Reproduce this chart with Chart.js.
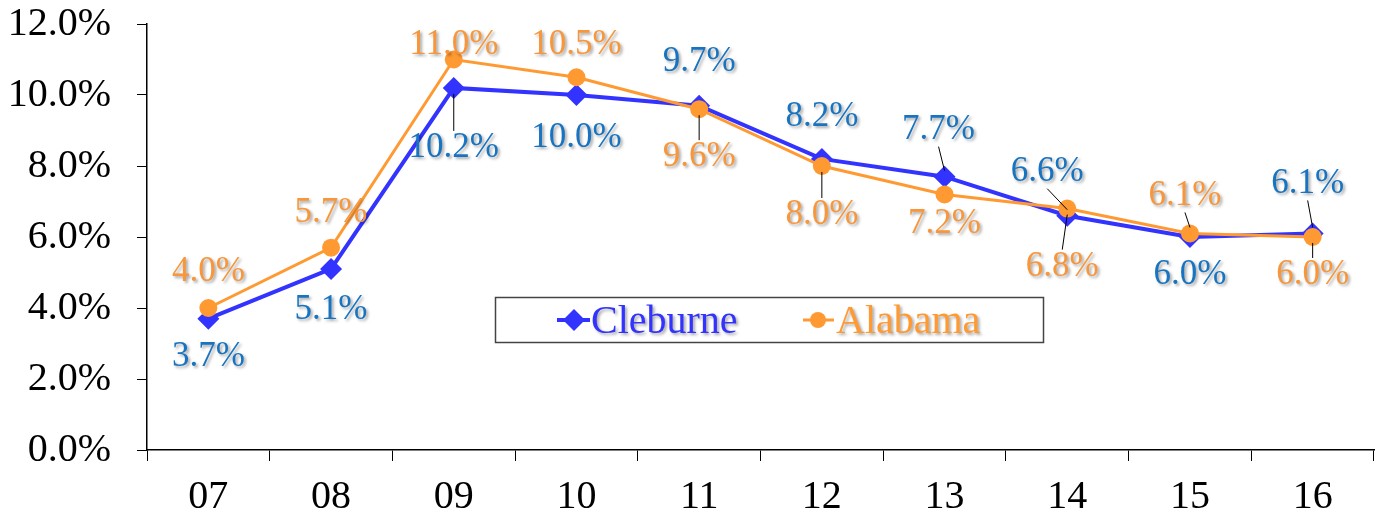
<!DOCTYPE html>
<html>
<head>
<meta charset="utf-8">
<script src="https://cdn.jsdelivr.net/npm/chart.js@4"></script>
<style>
  html, body { margin: 0; padding: 0; background: #fff; }
  #wrap { width: 1385px; height: 515px; }
</style>
</head>
<body>
<div id="wrap"><canvas id="rate-chart" width="1385" height="515"></canvas></div>
<script>
const years = ['07', '08', '09', '10', '11', '12', '13', '14', '15', '16'];
const cleburne = [3.7, 5.1, 10.2, 10.0, 9.7, 8.2, 7.7, 6.6, 6.0, 6.1];
const alabama = [4.0, 5.7, 11.0, 10.5, 9.6, 8.0, 7.2, 6.8, 6.1, 6.0];
const yTicks = [0, 2, 4, 6, 8, 10, 12];

// where each value label sits relative to its point, and whether it gets a leader line
const cleburneLabelPos = [[0, 38], [0, 41], [0, 60], [0, 43], [0, -44], [0, -42], [-6, -47], [-20, -44], [0, 38], [-5, -50]];
const alabamaLabelPos = [[0, -36], [0, -35], [0, -15], [0, -32], [0, 48], [0, 49], [0, 29], [-5, 58], [-5, -38], [0, 38]];
const cleburneLeader = [0, 0, 1, 0, 0, 0, 1, 1, 0, 1];
const alabamaLeader = [0, 0, 0, 0, 1, 1, 0, 1, 1, 1];

const SERIF = '"Liberation Serif", "Times New Roman", serif';
const BLUE_LINE = '#3333FF';
const ORANGE_LINE = '#FF9A33';
const BLUE_TEXT = '#1874C0';
const ORANGE_TEXT = '#F7963A';

const valueLabels = {
    id: 'valueLabels',
    afterDatasetsDraw(chart) {
        const ctx = chart.ctx;
        const cfg = [
            { data: cleburne, pos: cleburneLabelPos, leader: cleburneLeader, color: BLUE_TEXT },
            { data: alabama, pos: alabamaLabelPos, leader: alabamaLeader, color: ORANGE_TEXT }
        ];
        cfg.forEach((c, di) => {
            const meta = chart.getDatasetMeta(di);
            meta.data.forEach((pt, i) => {
                const [dx, dy] = c.pos[i];
                const lx = pt.x + dx;
                const ly = pt.y + dy;
                if (c.leader[i]) {
                    const s = dy > 0 ? 1 : -1;
                    ctx.save();
                    ctx.strokeStyle = '#000';
                    ctx.lineWidth = 1;
                    ctx.beginPath();
                    ctx.moveTo(pt.x, pt.y + s * 6);
                    ctx.lineTo(lx, ly - s * 17);
                    ctx.stroke();
                    ctx.restore();
                }
                ctx.save();
                ctx.font = '35px ' + SERIF;
                ctx.textAlign = 'center';
                ctx.textBaseline = 'middle';
                ctx.shadowColor = 'rgba(0,0,0,0.35)';
                ctx.shadowOffsetX = 2;
                ctx.shadowOffsetY = 2;
                ctx.shadowBlur = 3;
                ctx.fillStyle = c.color;
                ctx.fillText(c.data[i].toFixed(1) + '%', lx, ly);
                ctx.restore();
            });
        });
    }
};

const boxLegend = {
    id: 'boxLegend',
    afterDraw(chart) {
        const ctx = chart.ctx;
        ctx.save();
        ctx.fillStyle = '#fff';
        ctx.fillRect(495, 297, 548, 45);
        ctx.strokeStyle = '#444';
        ctx.lineWidth = 1.5;
        ctx.strokeRect(495.5, 297.5, 548, 45);

        const cy = 320;
        // Cleburne
        ctx.strokeStyle = BLUE_LINE;
        ctx.lineWidth = 4;
        ctx.beginPath();
        ctx.moveTo(557, cy); ctx.lineTo(590, cy); ctx.stroke();
        ctx.fillStyle = BLUE_LINE;
        ctx.beginPath();
        ctx.moveTo(574, cy - 11); ctx.lineTo(585, cy); ctx.lineTo(574, cy + 11); ctx.lineTo(563, cy);
        ctx.closePath(); ctx.fill();
        // Alabama
        ctx.strokeStyle = ORANGE_LINE;
        ctx.lineWidth = 3;
        ctx.beginPath();
        ctx.moveTo(803, cy); ctx.lineTo(834, cy); ctx.stroke();
        ctx.fillStyle = ORANGE_LINE;
        ctx.beginPath();
        ctx.arc(818, cy, 8, 0, Math.PI * 2); ctx.fill();

        ctx.font = '40px ' + SERIF;
        ctx.textAlign = 'left';
        ctx.textBaseline = 'alphabetic';
        ctx.shadowColor = 'rgba(0,0,0,0.35)';
        ctx.shadowOffsetX = 2;
        ctx.shadowOffsetY = 2;
        ctx.shadowBlur = 3;
        ctx.fillStyle = BLUE_LINE;
        ctx.fillText('Cleburne', 591, 333);
        ctx.fillStyle = ORANGE_LINE;
        ctx.fillText('Alabama', 836, 333);
        ctx.restore();
    }
};

new Chart(document.getElementById('rate-chart'), {
    type: 'line',
    data: {
        labels: years,
        datasets: [{
            label: 'Cleburne',
            data: cleburne,
            borderColor: BLUE_LINE,
            backgroundColor: BLUE_LINE,
            borderWidth: 4,
            pointStyle: 'rectRot',
            pointRadius: 11,
            pointBorderWidth: 0,
            tension: 0,
            order: 2
        }, {
            label: 'Alabama',
            data: alabama,
            borderColor: ORANGE_LINE,
            backgroundColor: ORANGE_LINE,
            borderWidth: 3,
            pointStyle: 'circle',
            pointRadius: 9,
            pointBorderWidth: 0,
            tension: 0,
            order: 1
        }]
    },
    options: {
        responsive: false,
        animation: false,
        layout: { padding: { top: 24, right: 2, left: 0, bottom: 0 } },
        plugins: {
            legend: { display: false },
            tooltip: { enabled: false }
        },
        scales: {
            x: {
                offset: true,
                grid: { offset: true, drawOnChartArea: false, color: '#000', tickLength: 11, lineWidth: 1 },
                border: { color: '#000', width: 1.5 },
                ticks: {
                    color: '#000',
                    font: { family: SERIF, size: 40 },
                    padding: 12,
                    maxRotation: 0
                },
                afterFit: axis => { axis.height = 65; axis.paddingLeft = 0; axis.paddingRight = 0; }
            },
            y: {
                min: 0,
                max: 12,
                afterBuildTicks: axis => { axis.ticks = yTicks.map(v => ({ value: v })); },
                grid: { drawOnChartArea: false, color: '#000', tickLength: 10, lineWidth: 1 },
                border: { color: '#000', width: 1.5 },
                ticks: {
                    color: '#000',
                    font: { family: SERIF, size: 40 },
                    padding: 26,
                    callback: v => v.toFixed(1) + '%'
                },
                afterFit: axis => { axis.width = 147; axis.paddingTop = 0; axis.paddingBottom = 0; }
            }
        }
    },
    plugins: [valueLabels, boxLegend]
});
</script>
</body>
</html>
